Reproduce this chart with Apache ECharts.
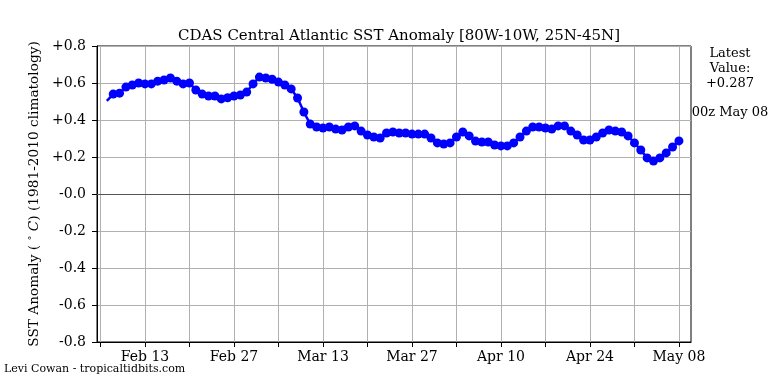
<!DOCTYPE html>
<html><head><meta charset="utf-8">
<script src="https://cdn.jsdelivr.net/npm/echarts@6/dist/echarts.min.js"></script>
<style>html,body{margin:0;padding:0;background:#fff}#c{width:768px;height:384px}</style>
</head><body><div id="c"></div>
<script>
// Daily anomalies (deg C), Feb 07 .. May 08 (day 1 .. day 91, day 0 = Feb 06)
const firstDay = 1;
const anomalies = [
  0.503, 0.540, 0.545, 0.578, 0.589, 0.600, 0.595, 0.595, 0.610, 0.616,
  0.627, 0.610, 0.595, 0.600, 0.562, 0.540, 0.530, 0.530, 0.514, 0.520,
  0.530, 0.535, 0.551, 0.595, 0.632, 0.627, 0.620, 0.605, 0.589, 0.568,
  0.519, 0.443, 0.378, 0.362, 0.357, 0.362, 0.351, 0.346, 0.362, 0.368,
  0.340, 0.319, 0.308, 0.303, 0.330, 0.335, 0.330, 0.330, 0.324, 0.324,
  0.324, 0.303, 0.276, 0.270, 0.276, 0.308, 0.335, 0.314, 0.286, 0.281,
  0.281, 0.265, 0.260, 0.260, 0.276, 0.308, 0.340, 0.362, 0.362, 0.357,
  0.351, 0.368, 0.368, 0.340, 0.319, 0.292, 0.292, 0.308, 0.330, 0.346,
  0.340, 0.335, 0.314, 0.276, 0.238, 0.195, 0.178, 0.195, 0.222, 0.254,
  0.287
];
const xTickDays = [0, 7, 14, 21, 28, 35, 42, 49, 56, 63, 70, 77, 84, 91];
const xLabelDays = [7, 21, 35, 49, 63, 77, 91];
const xTickLabels = ['Feb 13', 'Feb 27', 'Mar 13', 'Mar 27', 'Apr 10', 'Apr 24', 'May 08'];
const yTickValues = [-0.8, -0.6, -0.4, -0.2, 0, 0.2, 0.4, 0.6, 0.8];
const yTickLabels = ['-0.8', '-0.6', '-0.4', '-0.2', '-0.0', '+0.2', '+0.4', '+0.6', '+0.8'];
const latestLabel = '+0.287';
const latestTime = '00z May 08';

const FONT = 'DejaVu Serif';
const seriesData = anomalies.map((v, i) => i === 0
  ? { value: [firstDay + i, v], symbolSize: 0 }
  : [firstDay + i, v]);

const chart = echarts.init(document.getElementById('c'), null, { renderer: 'canvas' });
chart.setOption({
  animation: false,
  backgroundColor: '#fff',
  title: {
    text: 'CDAS Central Atlantic SST Anomaly [80W-10W, 25N-45N]',
    left: 394, top: 24, textAlign: 'center',
    textStyle: { fontFamily: FONT, fontSize: 15, fontWeight: 'normal', color: '#000' }
  },
  grid: { left: 97, right: 77, top: 46, bottom: 42, show: true, borderColor: '#000', borderWidth: 1, backgroundColor: 'transparent' },
  xAxis: {
    type: 'value', min: -0.55, max: 92.9,
    axisLine: { show: true, onZero: false, lineStyle: { color: '#000', width: 1 } },
    axisTick: { show: true, length: 5, customValues: xTickDays, lineStyle: { color: '#000' } },
    axisLabel: {
      customValues: xLabelDays, margin: 8,
      fontFamily: FONT, fontSize: 14, color: '#000',
      formatter: v => { const k = xLabelDays.indexOf(Math.round(v)); return k >= 0 ? xTickLabels[k] : ''; }
    },
    splitLine: { show: true, lineStyle: { color: '#b0b0b0', width: 1 } }
  },
  yAxis: {
    type: 'value', min: -0.8, max: 0.8, interval: 0.2,
    name: 'SST Anomaly ( {s|°} {i|C}) (1981-2010 climatology)',
    nameLocation: 'middle', nameGap: 53, nameRotate: 90,
    nameTextStyle: { fontFamily: FONT, fontSize: 13.7, color: '#000',
      rich: { s: { fontFamily: FONT, fontSize: 10, color: '#000', verticalAlign: 'top' }, i: { fontFamily: FONT, fontSize: 13.7, fontStyle: 'italic', color: '#000' } } },
    axisLine: { show: true, onZero: false, lineStyle: { color: '#000', width: 1 } },
    axisTick: { show: true, length: 5, lineStyle: { color: '#000' } },
    axisLabel: {
      margin: 11, fontFamily: FONT, fontSize: 14, color: '#000',
      formatter: v => { const k = yTickValues.findIndex(t => Math.abs(t - v) < 1e-6); return k >= 0 ? yTickLabels[k] : ''; }
    },
    splitLine: { show: true, lineStyle: { color: '#b0b0b0', width: 1 } }
  },
  series: [{
    type: 'line',
    data: seriesData,
    symbol: 'circle', symbolSize: 9,
    lineStyle: { color: '#0000ff', width: 2.5 },
    itemStyle: { color: '#0000ff' },
    z: 5,
    markLine: {
      silent: true, symbol: 'none', label: { show: false },
      lineStyle: { color: '#555', type: 'solid', width: 1.2 },
      data: [{ yAxis: 0 }], z: 3
    }
  }],
  graphic: [
    { type: 'text', x: 730, y: 46, style: { text: 'Latest\nValue:\n' + latestLabel, align: 'center', verticalAlign: 'top', lineHeight: 15, font: '13px "DejaVu Serif"', fill: '#000' } },
    { type: 'text', x: 730, y: 106, style: { text: latestTime, align: 'center', verticalAlign: 'top', font: '13px "DejaVu Serif"', fill: '#000' } },
    { type: 'text', x: 4, y: 364, style: { text: 'Levi Cowan - tropicaltidbits.com', align: 'left', verticalAlign: 'top', font: '11px "DejaVu Serif"', fill: '#000' } }
  ]
});
</script></body></html>
